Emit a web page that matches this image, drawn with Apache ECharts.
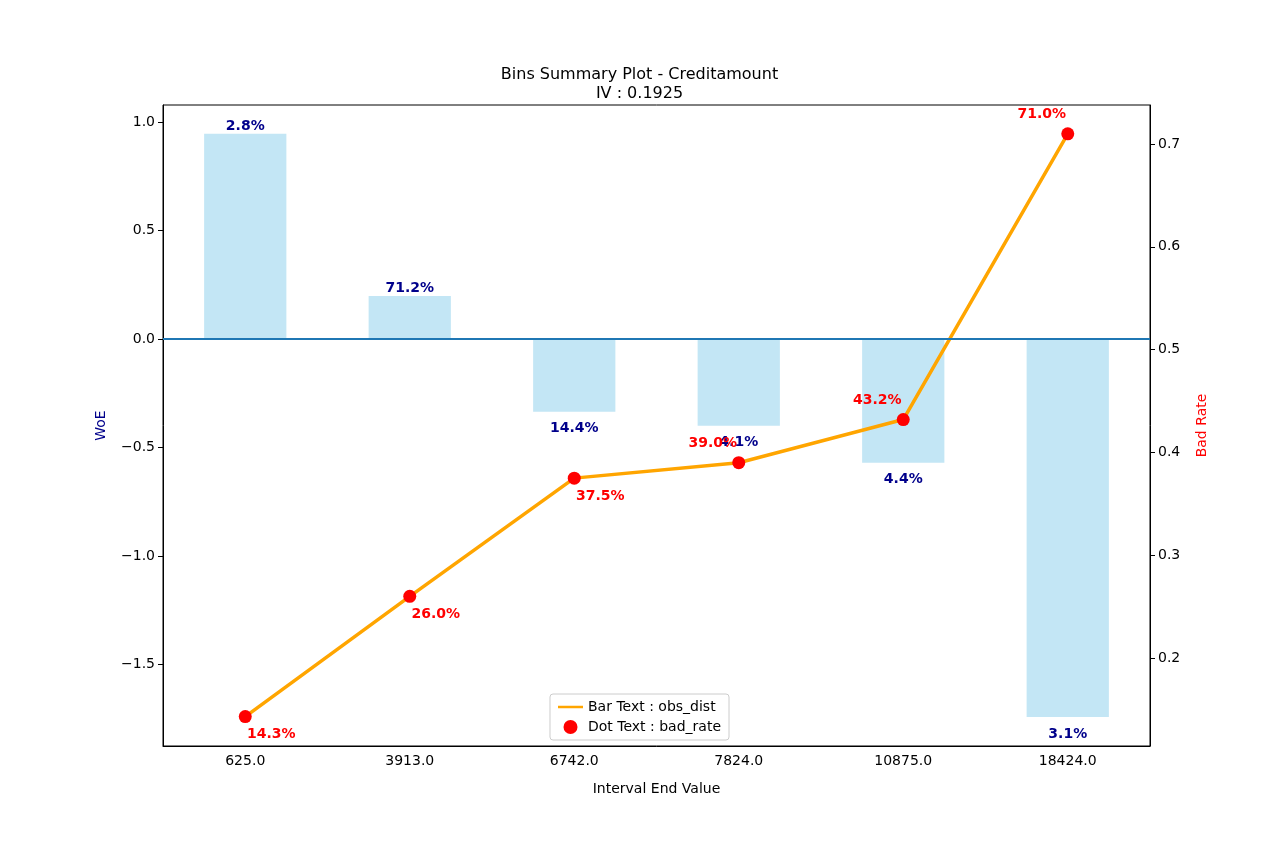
<!DOCTYPE html>
<html><head><meta charset="utf-8">
<script src="https://cdn.jsdelivr.net/npm/echarts@6/dist/echarts.min.js"></script>
<style>html,body{margin:0;padding:0;background:#fff}#c{width:1279px;height:854px}</style>
</head><body><div id="c"></div>
<script>
const categories = ['625.0','3913.0','6742.0','7824.0','10875.0','18424.0'];
const woe = [0.945, 0.198, -0.336, -0.40, -0.571, -1.742];
const obsDist = ['2.8%','71.2%','14.4%','4.1%','4.4%','3.1%'];
const badRate = [0.143, 0.26, 0.375, 0.39, 0.432, 0.71];
const badRateText = ['14.3%','26.0%','37.5%','39.0%','43.2%','71.0%'];
const woeTicks = [-1.5,-1.0,-0.5,0.0,0.5,1.0];
const badRateTicks = [0.2,0.3,0.4,0.5,0.6,0.7];
const dotOffsets = [[26,18],[26,18],[26,18],[-26,-19],[-26,-19],[-26,-19]];

const F = 'DejaVu Sans';
const chart = echarts.init(document.getElementById('c'));
chart.setOption({
  animation:false,
  textStyle:{fontFamily:F},
  title:{text:'Bins Summary Plot - Creditamount\nIV : 0.1925',left:'center',top:60,
    textStyle:{fontFamily:F,fontSize:16,fontWeight:'normal',color:'#000',lineHeight:19}},
  grid:{left:163,right:129,top:105,bottom:108,show:true,borderColor:'#000',borderWidth:1},
  legend:{bottom:114,left:'center',orient:'vertical',itemGap:6,borderColor:'#ccc',borderWidth:1,borderRadius:3,padding:[6,8],
    textStyle:{fontFamily:F,fontSize:14,color:'#000'},
    data:[{name:'Bar Text : obs_dist',icon:'path://M0,0 L30,0 L30,3 L0,3Z'},{name:'Dot Text : bad_rate',icon:'circle'}]},
  xAxis:{type:'category',data:categories,name:'Interval End Value',nameLocation:'middle',nameGap:36,
    nameTextStyle:{fontFamily:F,fontSize:14,color:'#000'},
    axisLine:{onZero:false,lineStyle:{color:'#000'}},axisTick:{alignWithLabel:true,lineStyle:{color:'#000'}},
    axisLabel:{fontFamily:F,fontSize:14,color:'#000',margin:8}},
  yAxis:[
    {type:'value',min:-1.876,max:1.078,name:'WoE',nameLocation:'middle',nameGap:55,
      nameTextStyle:{color:'#00008b',fontSize:14,fontFamily:F},splitLine:{show:false},
      axisLine:{show:true,lineStyle:{color:'#000'}},
      axisTick:{show:true,customValues:woeTicks},
      axisLabel:{fontFamily:F,fontSize:14,color:'#000',customValues:woeTicks,
        formatter:v=>(v<0?'\u2212':'')+Math.abs(v).toFixed(1)}},
    {type:'value',min:0.1144,max:0.738,name:'Bad Rate',nameLocation:'middle',nameGap:45,
      nameTextStyle:{color:'red',fontSize:14,fontFamily:F},splitLine:{show:false},
      axisLine:{show:true,lineStyle:{color:'#000'}},
      axisLabel:{fontFamily:F,fontSize:14,color:'#000',customValues:badRateTicks,formatter:v=>v.toFixed(1)},
      axisTick:{show:true,customValues:badRateTicks}}
  ],
  series:[
    {type:'bar',yAxisIndex:0,data:woe.map((v,i)=>({value:v,label:{position:v>=0?'top':'bottom',distance:v>=0?1:10}})),
      barWidth:'50%',itemStyle:{color:'rgba(135,206,235,0.5)'},
      label:{show:true,formatter:p=>obsDist[p.dataIndex],color:'#00008b',fontWeight:'bold',fontSize:14,fontFamily:F},
      markLine:{silent:true,symbol:'none',label:{show:false},lineStyle:{color:'#1f77b4',width:2,type:'solid'},data:[{yAxis:0}]}},
    {name:'Bar Text : obs_dist',type:'line',yAxisIndex:1,data:badRate,showSymbol:false,symbol:'none',
      lineStyle:{color:'orange',width:3.5},itemStyle:{color:'orange'},z:3},
    {name:'Dot Text : bad_rate',type:'scatter',yAxisIndex:1,symbolSize:13,itemStyle:{color:'red',opacity:1},z:4,
      data:badRate.map((v,i)=>({value:v,label:{offset:dotOffsets[i]}})),
      label:{show:true,position:'inside',formatter:p=>badRateText[p.dataIndex],color:'#ff0000',fontWeight:'bold',fontSize:14,fontFamily:F}}
  ]
});
</script></body></html>
